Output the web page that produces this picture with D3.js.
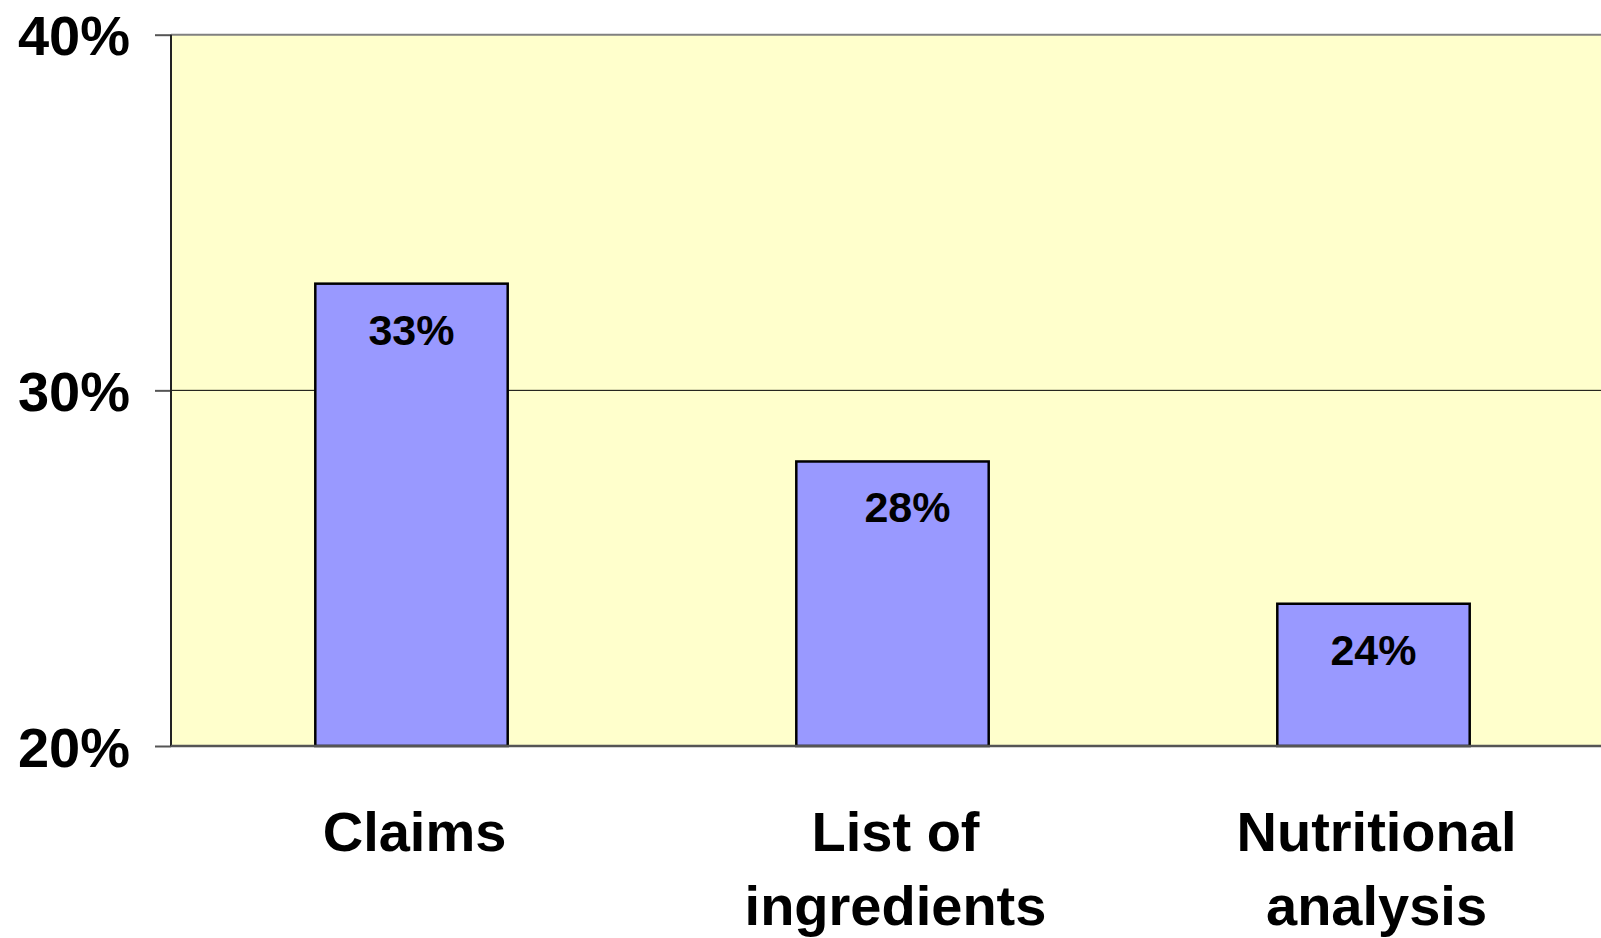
<!DOCTYPE html>
<html>
<head>
<meta charset="utf-8">
<script src="https://cdn.jsdelivr.net/npm/d3@7"></script>
<style>
  html, body { margin: 0; padding: 0; background: #ffffff; }
  svg { display: block; }
  text { font-family: "Liberation Sans", Arial, sans-serif; font-weight: bold; fill: #000; }
</style>
</head>
<body>
<script>
// Share of respondents by label element
const categories = ["Claims", "List of ingredients", "Nutritional analysis"];
const categoryLines = [["Claims"], ["List of", "ingredients"], ["Nutritional", "analysis"]];
const values = [33, 28, 24];
const yTicks = [20, 30, 40];

const width = 1601, height = 938;
const plot = { left: 171, top: 34.7, right: 1614, bottom: 746 };

// the middle value label sits a little right of its bar's centre
const valueLabelDx = { "List of ingredients": 15 };

const svg = d3.select("body").append("svg")
  .attr("width", width)
  .attr("height", height);

const x = d3.scaleBand()
  .domain(categories)
  .range([plot.left, plot.right])
  .paddingInner(0.6)
  .paddingOuter(0.3);

const y = d3.scaleLinear()
  .domain([20, 40])
  .range([plot.bottom, plot.top]);

// plot background
svg.append("rect")
  .attr("x", plot.left)
  .attr("y", plot.top)
  .attr("width", plot.right - plot.left)
  .attr("height", plot.bottom - plot.top)
  .attr("fill", "#FFFFCC");

// horizontal gridlines (inner)
svg.append("g")
  .selectAll("line")
  .data(yTicks.filter(t => t !== 20 && t !== 40))
  .join("line")
  .attr("x1", plot.left)
  .attr("x2", plot.right)
  .attr("y1", d => y(d))
  .attr("y2", d => y(d))
  .attr("stroke", "#000")
  .attr("stroke-width", 1);

// top border
svg.append("line")
  .attr("x1", plot.left).attr("x2", plot.right)
  .attr("y1", plot.top).attr("y2", plot.top)
  .attr("stroke", "#808080").attr("stroke-width", 2);

// bars
svg.append("g")
  .selectAll("rect")
  .data(values)
  .join("rect")
  .attr("x", (d, i) => x(categories[i]))
  .attr("y", d => y(d))
  .attr("width", x.bandwidth())
  .attr("height", d => y(20) - y(d))
  .attr("fill", "#9999FF")
  .attr("stroke", "#000")
  .attr("stroke-width", 2.5);

// value labels
svg.append("g")
  .selectAll("text")
  .data(values)
  .join("text")
  .attr("x", (d, i) => x(categories[i]) + x.bandwidth() / 2 + (valueLabelDx[categories[i]] || 0))
  .attr("y", d => y(d) + 61)
  .attr("text-anchor", "middle")
  .attr("font-size", 43)
  .text(d => d + "%");

// y axis
const yAxis = d3.axisLeft(y)
  .tickValues(yTicks)
  .tickSize(16)
  .tickPadding(25)
  .tickFormat(d => d + "%");

const gy = svg.append("g")
  .attr("transform", `translate(${plot.left},0)`)
  .call(yAxis);
gy.select(".domain").remove();
gy.selectAll(".tick line").attr("stroke", "#555").attr("stroke-width", 2);
gy.selectAll(".tick text")
  .attr("font-size", 56)
  .attr("font-family", null)
  .attr("dy", "0.36em");

// left axis line
svg.append("line")
  .attr("x1", plot.left).attr("x2", plot.left)
  .attr("y1", plot.top).attr("y2", plot.bottom)
  .attr("stroke", "#222").attr("stroke-width", 2);

// bottom axis line
svg.append("line")
  .attr("x1", plot.left).attr("x2", plot.right)
  .attr("y1", plot.bottom).attr("y2", plot.bottom)
  .attr("stroke", "#555").attr("stroke-width", 2.5);

// category labels
const cat = svg.append("g")
  .selectAll("text")
  .data(categories)
  .join("text")
  .attr("text-anchor", "middle")
  .attr("font-size", 56)
  .attr("transform", d => `translate(${x(d) + x.bandwidth() / 2 + 3},851)`);

cat.selectAll("tspan")
  .data((d, i) => categoryLines[i])
  .join("tspan")
  .attr("x", 0)
  .attr("y", (d, j) => j * 73.5)
  .text(d => d);
</script>
</body>
</html>
